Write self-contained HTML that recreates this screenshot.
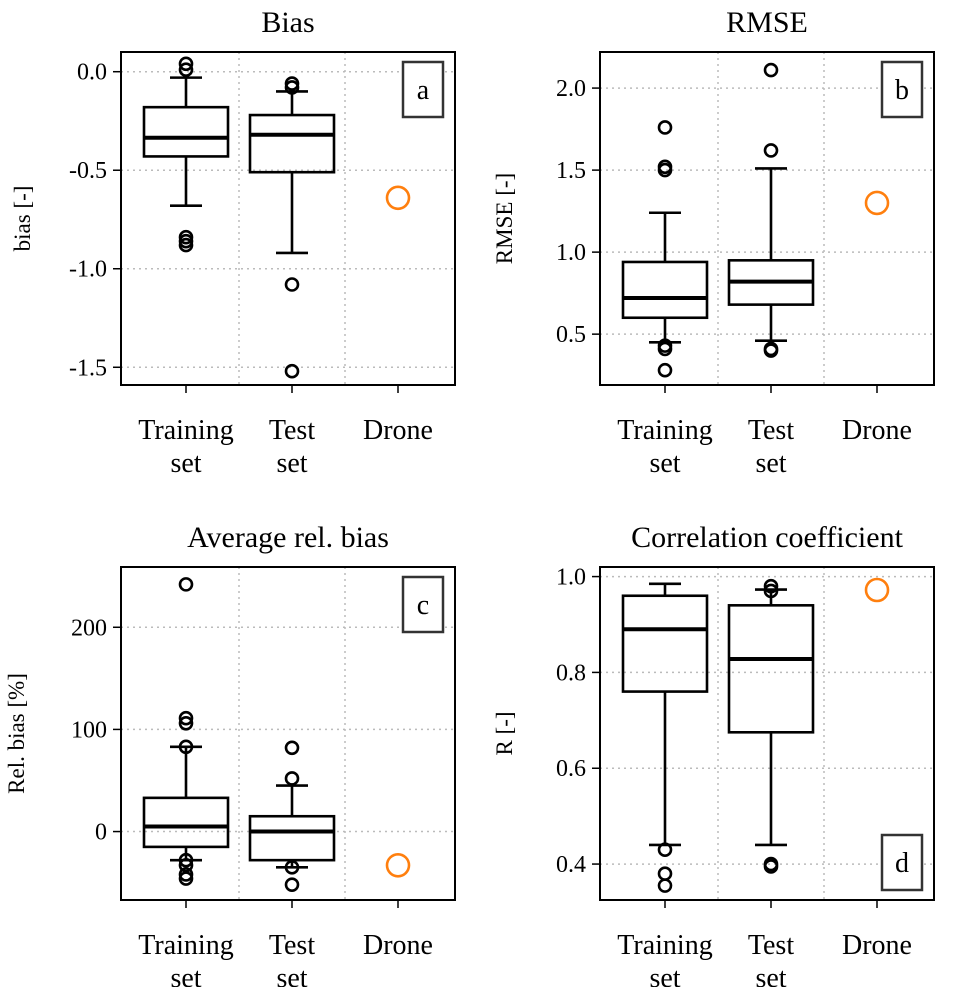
<!DOCTYPE html>
<html><head><meta charset="utf-8"><style>
body{margin:0;background:#fff}
svg{display:block;font-family:"Liberation Serif",serif}
</style></head><body>
<svg id="c" width="963" height="987"></svg>
<script>
const categories=["Training\nset","Test\nset","Drone"];
const biasTrain=[-0.68,-0.43,-0.335,-0.18,-0.03];
const biasTest=[-0.92,-0.51,-0.32,-0.22,-0.1];
const biasOutTrain=[0.04,0.01,-0.84,-0.86,-0.88];
const biasOutTest=[-0.06,-0.08,-1.08,-1.52];
const biasDrone=[-0.64];
const rmseTrain=[0.45,0.6,0.72,0.94,1.24];
const rmseTest=[0.46,0.68,0.82,0.95,1.51];
const rmseOutTrain=[1.76,1.52,1.5,0.43,0.41,0.28];
const rmseOutTest=[2.11,1.62,0.41,0.4];
const rmseDrone=[1.3];
const relTrain=[-28,-15,5,33,83];
const relTest=[-35,-28,0,15,45];
const relOutTrain=[242,111,106,83,-28,-33,-42,-46];
const relOutTest=[82,52,-35,-52];
const relDrone=[-33];
const rTrain=[0.44,0.76,0.89,0.96,0.985];
const rTest=[0.44,0.675,0.828,0.94,0.973];
const rOutTrain=[0.43,0.38,0.355];
const rOutTest=[0.98,0.97,0.4,0.395];
const rDrone=[0.972];
const biasTicks=[0.0,-0.5,-1.0,-1.5], biasTickLabels=["0.0","-0.5","-1.0","-1.5"];
const rmseTicks=[2.0,1.5,1.0,0.5], rmseTickLabels=["2.0","1.5","1.0","0.5"];
const relTicks=[200,100,0], relTickLabels=["200","100","0"];
const rTicks=[1.0,0.8,0.6,0.4], rTickLabels=["1.0","0.8","0.6","0.4"];

const svg=document.getElementById('c');const NS="http://www.w3.org/2000/svg";
function mk(t,a,p){const e=document.createElementNS(NS,t);for(const k in a)e.setAttribute(k,a[k]);(p||svg).appendChild(e);return e;}
function panel(o){
 const g=mk('g',{});
 
 
 const L=o.x,T=o.y,W=334,H=333;
 const y=v=>T+(o.ymax-v)/(o.ymax-o.ymin)*H;
 const x=i=>L+65+i*106;
 o.ticks.forEach((t,i)=>{const l=mk('line',{x1:L,x2:L+W,y1:y(t),y2:y(t),stroke:'#bbb','stroke-width':1.5,'stroke-dasharray':'2,4'},g);
  
  mk('line',{x1:L-8,x2:L,y1:y(t),y2:y(t),stroke:'#000','stroke-width':1.5},g);
  const tx=mk('text',{x:L-14,y:y(t)+8,'text-anchor':'end','font-size':24},g);tx.textContent=o.labels[i];
  });
 [0,1,2].forEach(i=>{const xv=x(i);
  if(i<2)mk('line',{x1:xv+53,x2:xv+53,y1:T,y2:T+H,stroke:'#bbb','stroke-width':1.5,'stroke-dasharray':'2,4'},g);
  mk('line',{x1:xv,x2:xv,y1:T+H,y2:T+H+8,stroke:'#000','stroke-width':1.5},g);
  const lines=categories[i].split('\n');
  lines.forEach((s,j)=>{const tx=mk('text',{x:xv,y:T+H+54+j*33,'text-anchor':'middle','font-size':28},g);tx.textContent=s;
   });});
 [o.train,o.test].forEach((b,i)=>{const xv=x(i);const bg=mk('g',{},g);
  
  const s={stroke:'#000','stroke-width':2.6,fill:'none'};
  mk('line',{...s,x1:xv,x2:xv,y1:y(b[0]),y2:y(b[1])},bg);
  mk('line',{...s,x1:xv,x2:xv,y1:y(b[3]),y2:y(b[4])},bg);
  mk('line',{...s,x1:xv-16,x2:xv+16,y1:y(b[0]),y2:y(b[0])},bg);
  mk('line',{...s,x1:xv-16,x2:xv+16,y1:y(b[4]),y2:y(b[4])},bg);
  mk('rect',{...s,x:xv-42,width:84,y:y(b[3]),height:y(b[1])-y(b[3])},bg);
  mk('line',{...s,'stroke-width':4,x1:xv-42,x2:xv+42,y1:y(b[2]),y2:y(b[2])},bg);
  (i?o.outTest:o.outTrain).forEach(v=>{const c=mk('circle',{cx:xv,cy:y(v),r:6,stroke:'#000','stroke-width':2.6,fill:'none'},bg);
   });});
 o.drone.forEach(v=>{const c=mk('circle',{cx:x(2),cy:y(v),r:11,stroke:'#ff7f0e','stroke-width':2.6,fill:'none'},g);
  });
 mk('rect',{x:L,y:T,width:W,height:H,fill:'none',stroke:'#000','stroke-width':2},g);
 const ly=o.lbot?T+H-65:T+10;
 const lb=mk('rect',{x:L+282,y:ly,width:40,height:55,fill:'#fff',stroke:'#333','stroke-width':2.5},g);
 
 const lt=mk('text',{x:L+302,y:ly+37,'text-anchor':'middle','font-size':28},g);lt.textContent=o.letter;
 const tt=mk('text',{x:L+W/2,y:T-20,'text-anchor':'middle','font-size':30},g);tt.textContent=o.title;
 
 const yl=mk('text',{x:0,y:0,'text-anchor':'middle','font-size':23,transform:`translate(${o.ylx},${T+H/2}) rotate(-90)`},g);yl.textContent=o.ylabel;
 
}
panel({name:'panel-bias',x:121,y:52,ymax:0.1,ymin:-1.59,ticks:biasTicks,labels:biasTickLabels,train:biasTrain,test:biasTest,outTrain:biasOutTrain,outTest:biasOutTest,drone:biasDrone,letter:'a',title:'Bias',ylabel:'bias [-]',ylx:30});
panel({name:'panel-rmse',x:600,y:52,ymax:2.22,ymin:0.19,ticks:rmseTicks,labels:rmseTickLabels,train:rmseTrain,test:rmseTest,outTrain:rmseOutTrain,outTest:rmseOutTest,drone:rmseDrone,letter:'b',title:'RMSE',ylabel:'RMSE [-]',ylx:512});
panel({name:'panel-rel-bias',x:121,y:567,ymax:259,ymin:-67,ticks:relTicks,labels:relTickLabels,train:relTrain,test:relTest,outTrain:relOutTrain,outTest:relOutTest,drone:relDrone,letter:'c',title:'Average rel. bias',ylabel:'Rel. bias [%]',ylx:24});
panel({name:'panel-correlation',x:600,y:567,ymax:1.02,ymin:0.325,ticks:rTicks,labels:rTickLabels,train:rTrain,test:rTest,outTrain:rOutTrain,outTest:rOutTest,drone:rDrone,letter:'d',title:'Correlation coefficient',ylabel:'R [-]',ylx:512,lbot:true});
</script>
</body></html>
